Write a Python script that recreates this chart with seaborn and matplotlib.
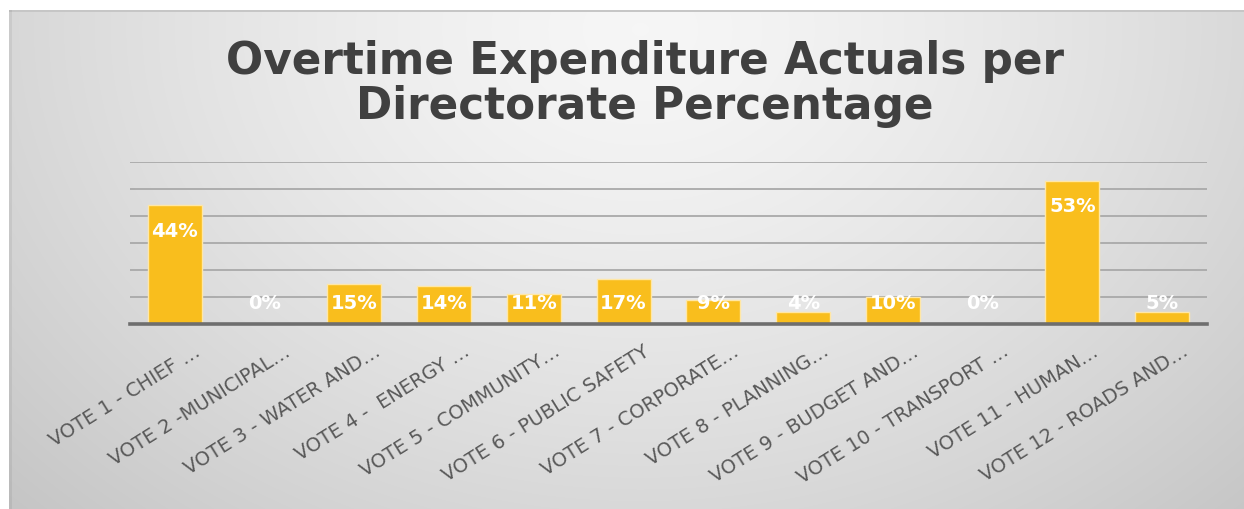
import numpy as np
import matplotlib
matplotlib.use("Agg")
import matplotlib.pyplot as plt
import matplotlib.transforms as mtransforms
import seaborn as sns

# ---- data ----
categories = [
    "VOTE 1 - CHIEF …",
    "VOTE 2 -MUNICIPAL…",
    "VOTE 3 - WATER AND…",
    "VOTE 4 -  ENERGY …",
    "VOTE 5 - COMMUNITY…",
    "VOTE 6 - PUBLIC SAFETY",
    "VOTE 7 - CORPORATE…",
    "VOTE 8 - PLANNING…",
    "VOTE 9 - BUDGET AND…",
    "VOTE 10 - TRANSPORT …",
    "VOTE 11 - HUMAN…",
    "VOTE 12 - ROADS AND…",
]
values = [0.44, 0.0, 0.15, 0.14, 0.11, 0.166, 0.09, 0.043, 0.10, 0.0, 0.53, 0.046]
y_ticks = [0.0, 0.1, 0.2, 0.3, 0.4, 0.5, 0.6]
title = "Overtime Expenditure Actuals per\nDirectorate Percentage"

sns.set_theme(style="white")
plt.rcParams["font.family"] = ["DejaVu Sans"]

W, H = 1244, 510
fig = plt.figure(figsize=(W / 100, H / 100), dpi=100)
fig.patch.set_facecolor("white")

# ---- background gradient ----
bg = fig.add_axes([0, 0, 1, 1], zorder=0)
bg.axis("off")
yy, xx = np.mgrid[0:H, 0:W]
cx, cy = 640, 30
d = np.sqrt(((xx - cx) / 720.0) ** 2 + ((yy - cy) / 560.0) ** 2)
val = 0.965 - 0.145 * np.clip(d, 0, 1.4) ** 1.4
img = np.dstack([val, val, val])
img[:11, :, :] = 1.0
img[:, :9, :] = 1.0
img[11:13, 9:, :] = 0.78
img[11:, 9:12, :] = img[11:, 9:12, :] * 0.94
bg.imshow(img, extent=[0, W, H, 0], aspect="auto", interpolation="bilinear")
bg.set_xlim(0, W)
bg.set_ylim(H, 0)

# ---- main axes ----
left, right, bottom, top = 130, 1207, 325, 163
ax = fig.add_axes([left / W, (H - bottom) / H, (right - left) / W, (bottom - top) / H], zorder=1)
ax.patch.set_alpha(0)

bar_color = "#F9BE1D"
sns.barplot(x=categories, y=values, color=bar_color, width=0.6, ax=ax,
            edgecolor="#FFE7A6", linewidth=1.0, saturation=1, zorder=3)

ax.set_ylim(0, 0.6)
ax.set_xlim(-0.5, len(categories) - 0.5)
ax.set_yticks(y_ticks)
ax.set_yticklabels([])
ax.tick_params(axis="y", length=0)
ax.yaxis.grid(True, color="#A9A9A9", linewidth=1.3, zorder=0)
ax.set_axisbelow(True)
for s in ["top", "right", "left"]:
    ax.spines[s].set_visible(False)
ax.spines["bottom"].set_color("#6E6E6E")
ax.spines["bottom"].set_linewidth(2.6)
ax.spines["bottom"].set_zorder(4)
ax.set_xlabel("")
ax.set_ylabel("")

ax.tick_params(axis="x", length=0, pad=18, labelsize=14, labelcolor="#595959")
offset = mtransforms.ScaledTranslation(24 / 100, 0, fig.dpi_scale_trans)
for lbl in ax.get_xticklabels():
    lbl.set_rotation(32)
    lbl.set_ha("right")
    lbl.set_va("center")
    lbl.set_rotation_mode("anchor")
    lbl.set_transform(lbl.get_transform() + offset)

# data labels
for i, v in enumerate(values):
    ax.text(i, max(v - 0.0926, 0.078), f"{v:.0%}", ha="center", va="center",
            color="white", fontweight="bold", fontsize=14, zorder=5)

# title
fig.text(645 / W, 1 - 84 / H, title, ha="center", va="center", fontsize=31.5,
         fontweight="bold", color="#404040", linespacing=1.03)

fig.savefig("out.png", dpi=100, facecolor=fig.get_facecolor())
